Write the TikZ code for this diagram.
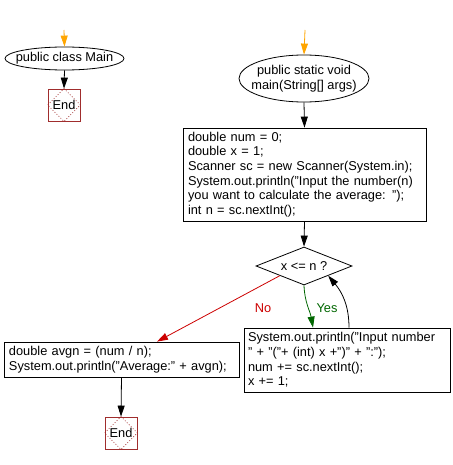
\documentclass[tikz,border=0pt]{standalone}
\usepackage{fontspec}
\setmainfont{Liberation Sans}
\usetikzlibrary{arrows.meta,shapes.geometric}

\definecolor{startcol}{RGB}{255,165,0}
\definecolor{endcol}{RGB}{160,45,45}
\definecolor{nocol}{RGB}{204,0,0}
\definecolor{yescol}{RGB}{0,102,0}

\begin{document}
\begin{tikzpicture}[x=1pt,y=-1pt,line width=0.8pt,
   every node/.style={font=\fontsize{12.8}{14.7}\selectfont},
   flow/.style={-{Triangle[length=11pt,width=7pt]}},
   start/.style={ellipse,draw,inner sep=0pt},
   code/.style={draw,align=left,inner xsep=5pt,inner ysep=2pt},
   endbox/.style={draw=endcol,minimum size=32pt,inner sep=0pt},
   test/.style={diamond,draw,aspect=2.5,minimum width=96pt,minimum height=38pt,inner sep=0pt}]
   \useasboundingbox (0,0) rectangle (452,465);

   \coordinate (in1) at (64,30);
   \node[start,minimum width=119pt,minimum height=23pt] (cls) at (64.5,58.5) {};
   \node (clstext) at (cls) {public class Main};
   \node[endbox] (end1) at (64,105) {End};
   \draw[endcol,dotted] (end1.north) -- (end1.east) -- (end1.south) -- (end1.west) -- cycle;
   \draw[flow,startcol] (in1) -- (cls.north);
   \draw[flow] (cls.south) -- (end1.north);

   \coordinate (in2) at (305,30);
   \node[start,minimum width=130pt,minimum height=47pt] (mainfn) at (304,78.5) {};
   \node[align=center] (mainfntext) at (mainfn) {public static void\\main(String[] args)};
   \node[code,text width=233pt,minimum height=93pt] (init) at (304.5,174.5)
      {double num = 0;\\
       double x = 1;\\
       Scanner sc = new Scanner(System.in);\\
       System.out.println("Input the number(n)\\
       you want to calculate the average: ");\\
       int n = sc.nextInt();};
   \node[test] (loop) at (304,266) {x <= n ?};
   \node[code,text width=225pt,minimum height=35pt] (avg) at (121.5,359.5)
      {double avgn = (num / n);\\
       System.out.println("Average:" + avgn);};
   \node[code,inner xsep=4pt,text width=198pt,minimum height=64pt] (body) at (347,360)
      {System.out.println("Input number\\
       " + "("+ (int) x +")" + ":");\\
       num += sc.nextInt();\\
       x += 1;};
   \node[endbox] (end2) at (121,433) {End};
   \draw[endcol,dotted] (end2.north) -- (end2.east) -- (end2.south) -- (end2.west) -- cycle;

   \draw[flow,startcol] (in2) -- (mainfn.north);
   \draw[flow] (mainfn.south) -- (init.north);
   \draw[flow] (init.south) -- (loop.north);
   \draw[flow,nocol] (loop.south west) -- ([xshift=35.5pt]avg.north);
   \draw[flow,yescol] (loop.south) to[out=-88,in=100] ([xshift=-34pt]body.north);
   \draw[flow] ([xshift=2pt]body.north) to[out=90,in=-50] (loop.south east);
   \draw[flow] (avg.south) -- (end2.north);
   \node[text=nocol] (nolbl) at (263,308) {No};
   \node[text=yescol] (yeslbl) at (327,308) {Yes};
\end{tikzpicture}
\end{document}
